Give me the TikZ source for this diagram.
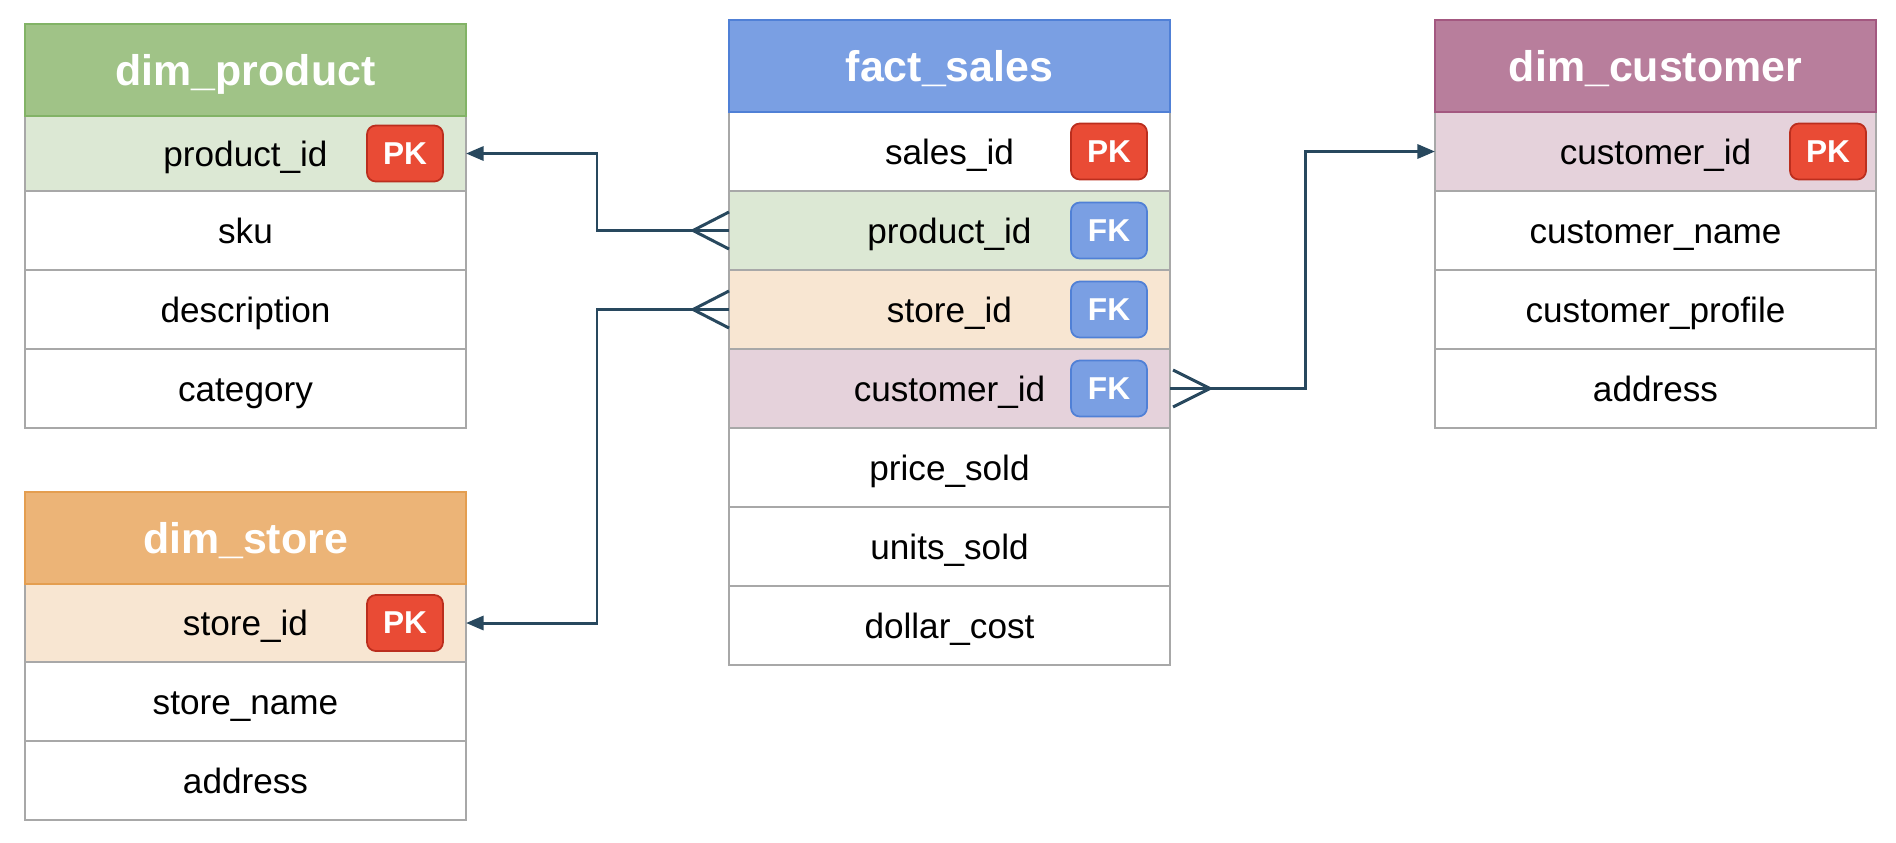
\documentclass[tikz,border=0pt]{standalone}
\usepackage{fontspec}
\setmainfont{Liberation Sans}
\usetikzlibrary{positioning,calc,arrows.meta}
\definecolor{mygray}{RGB}{168, 168, 168}
\definecolor{myslate}{RGB}{40, 72, 94}
\definecolor{mygreen}{RGB}{160, 195, 135}
\definecolor{mygreenline}{RGB}{130, 179, 102}
\definecolor{mylightgreen}{RGB}{220, 232, 212}
\definecolor{myblue}{RGB}{122, 159, 227}
\definecolor{myblueline}{RGB}{80, 128, 214}
\definecolor{myorange}{RGB}{236, 180, 119}
\definecolor{myorangeline}{RGB}{228, 158, 80}
\definecolor{mylightorange}{RGB}{248, 230, 210}
\definecolor{mypurple}{RGB}{184, 126, 156}
\definecolor{mypurpleline}{RGB}{163, 88, 128}
\definecolor{mylightpurple}{RGB}{229, 210, 219}
\definecolor{myred}{RGB}{233, 75, 53}
\definecolor{myredline}{RGB}{187, 46, 30}
\tikzset{>={Triangle[length=5pt,width=4pt]}}
\tikzset{
  tabhead/.style = {draw, outer sep=0pt, line width=0.6pt, minimum width=4.41cm,
    minimum height=0.92cm, text height=8.8pt, text depth=0pt, text=white,
    font=\bfseries\fontsize{12.2}{14}\selectfont},
  tabrow/.style = {draw=mygray, fill=white, outer sep=0pt, line width=0.6pt,
    minimum width=4.41cm, minimum height=0.79cm, text height=7.2pt, text depth=0pt,
    font=\fontsize{10}{12}\selectfont},
  keybox/.style = {draw, rounded corners=2.5pt, outer sep=0pt, inner sep=0pt, line width=0.5pt,
    minimum width=0.76cm, minimum height=0.56cm, text=white, font=\bfseries\fontsize{9}{10}\selectfont},
  pkbox/.style = {keybox, fill=myred, draw=myredline},
  fkbox/.style = {keybox, fill=myblue, draw=myblueline},
  conn/.style = {draw=myslate, line width=0.85pt}
}
\begin{document}
\begin{tikzpicture}
\useasboundingbox (0, 0) rectangle (18.96, -8.42);

% dim_product
\node[tabrow, fill=mylightgreen, minimum height=0.75cm, anchor=north west] (dp_prod) at (0.25, -1.16) {product\_id};
\node[tabhead, fill=mygreen, draw=mygreenline, above=0pt of dp_prod] (dp_head) {dim\_product};
\node[tabrow, below=0pt of dp_prod] (dp_sku) {sku};
\node[tabrow, below=0pt of dp_sku] (dp_desc) {description};
\node[tabrow, below=0pt of dp_desc] (dp_cat) {category};
\node[pkbox, left=0.23cm of dp_prod.east] (dp_pk) {PK};

% dim_store
\node[tabrow, fill=mylightorange, minimum height=0.78cm, anchor=north west] (ds_id) at (0.25, -5.84) {store\_id};
\node[tabhead, fill=myorange, draw=myorangeline, above=0pt of ds_id] (ds_head) {dim\_store};
\node[tabrow, below=0pt of ds_id] (ds_name) {store\_name};
\node[tabrow, below=0pt of ds_name] (ds_addr) {address};
\node[pkbox, left=0.23cm of ds_id.east] (ds_pk) {PK};

% fact_sales
\node[tabrow, anchor=north west] (fs_id) at (7.29, -1.12) {sales\_id};
\node[tabhead, fill=myblue, draw=myblueline, above=0pt of fs_id] (fs_head) {fact\_sales};
\node[tabrow, fill=mylightgreen, below=0pt of fs_id] (fs_prod) {product\_id};
\node[tabrow, fill=mylightorange, below=0pt of fs_prod] (fs_store) {store\_id};
\node[tabrow, fill=mylightpurple, below=0pt of fs_store] (fs_cust) {customer\_id};
\node[tabrow, below=0pt of fs_cust] (fs_price) {price\_sold};
\node[tabrow, below=0pt of fs_price] (fs_units) {units\_sold};
\node[tabrow, below=0pt of fs_units] (fs_cost) {dollar\_cost};
\node[pkbox, left=0.23cm of fs_id.east] (fs_pk) {PK};
\node[fkbox, left=0.23cm of fs_prod.east] (fs_fk1) {FK};
\node[fkbox, left=0.23cm of fs_store.east] (fs_fk2) {FK};
\node[fkbox, left=0.23cm of fs_cust.east] (fs_fk3) {FK};

% dim_customer
\node[tabrow, fill=mylightpurple, anchor=north west] (dc_id) at (14.35, -1.12) {customer\_id};
\node[tabhead, fill=mypurple, draw=mypurpleline, above=0pt of dc_id] (dc_head) {dim\_customer};
\node[tabrow, below=0pt of dc_id] (dc_name) {customer\_name};
\node[tabrow, below=0pt of dc_name] (dc_prof) {customer\_profile};
\node[tabrow, below=0pt of dc_prof] (dc_addr) {address};
\node[pkbox, left=0.1cm of dc_id.east] (dc_pk) {PK};

% relations
\draw[conn, ->] (fs_prod.west) -- ++(-1.32, 0) |- (dp_prod.east);
\draw[conn] ($(fs_prod.west)+(0, 0.185)$) -- ($(fs_prod.west)+(-0.36, 0)$) -- ($(fs_prod.west)+(0, -0.185)$);
\draw[conn, ->] (fs_store.west) -- ++(-1.32, 0) |- (ds_id.east);
\draw[conn] ($(fs_store.west)+(0, 0.185)$) -- ($(fs_store.west)+(-0.36, 0)$) -- ($(fs_store.west)+(0, -0.185)$);
\draw[conn, ->] (fs_cust.east) -- ++(1.35, 0) |- (dc_id.west);
\draw[conn] ($(fs_cust.east)+(0.03, 0.185)$) -- ($(fs_cust.east)+(0.4, 0)$) -- ($(fs_cust.east)+(0.03, -0.185)$);
\end{tikzpicture}
\end{document}
